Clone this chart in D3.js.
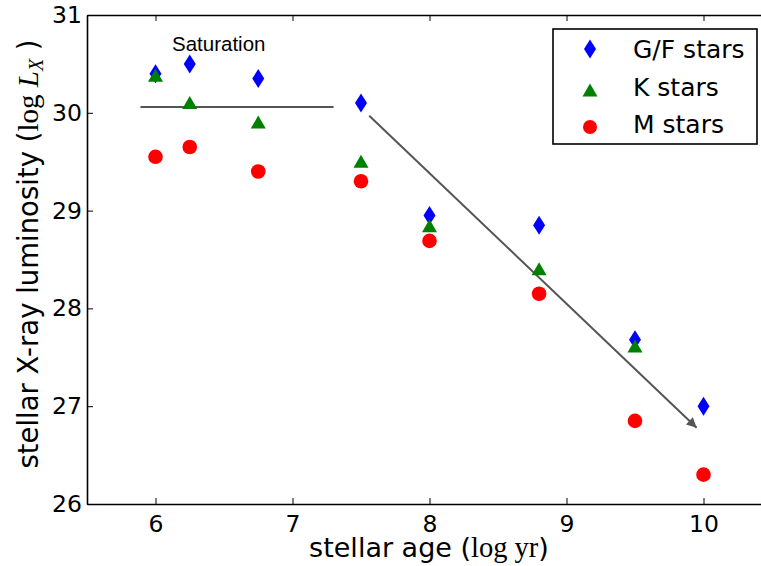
<!DOCTYPE html>
<html>
<head>
<meta charset="utf-8">
<script src="https://cdn.jsdelivr.net/npm/d3@7"></script>
<style>
  html, body { margin: 0; padding: 0; background: #fff; overflow: hidden; }
  svg { display: block; }
</style>
</head>
<body>
<svg id="chart" width="761" height="566"></svg>
<script>
// ---- data ----
const ages = [6, 6.25, 6.75, 7.5, 8, 8.8, 9.5, 10];
const gfStars = [30.4, 30.5, 30.35, 30.1, 28.95, 28.85, 27.68, 27.0];
const kStars = [30.38, 30.1, 29.9, 29.5, 28.84, 28.4, 27.61, null];
const mStars = [29.55, 29.65, 29.4, 29.3, 28.69, 28.15, 26.85, 26.3];
const seriesNames = ["G/F stars", "K stars", "M stars"];
const xTicks = [6, 7, 8, 9, 10];
const yTicks = [26, 27, 28, 29, 30, 31];
const saturationLine = [[5.89, 30.06], [7.30, 30.06]];
const decayArrow = [[7.56, 29.97], [9.95, 26.78]];

// ---- layout ----
const svg = d3.select("#chart");
const pL = 87, pR = 772, pT = 15, pB = 504;
const x = d3.scaleLinear().domain([5.5, 10.5]).range([pL, pR]);
const y = d3.scaleLinear().domain([26, 31]).range([pB, pT]);

const sans = "'DejaVu Sans', sans-serif";
const serif = "'Liberation Serif', 'DejaVu Serif', serif";

// axes (inward ticks, all sides)
const axB = svg.append("g").attr("transform", `translate(0,${pB})`)
  .call(d3.axisBottom(x).tickValues(xTicks).tickFormat(d3.format("d")).tickSizeInner(-6).tickSizeOuter(0).tickPadding(11));
const axT = svg.append("g").attr("transform", `translate(0,${pT})`)
  .call(d3.axisTop(x).tickValues(xTicks).tickFormat("").tickSizeInner(-6).tickSizeOuter(0));
const axL = svg.append("g").attr("transform", `translate(${pL},0)`)
  .call(d3.axisLeft(y).tickValues(yTicks).tickFormat(d3.format("d")).tickSizeInner(-6).tickSizeOuter(0).tickPadding(5));
const axR = svg.append("g").attr("transform", `translate(${pR},0)`)
  .call(d3.axisRight(y).tickValues(yTicks).tickFormat("").tickSizeInner(-6).tickSizeOuter(0));
[axB, axT, axL, axR].forEach(a => {
  a.select(".domain").attr("stroke", "#000").attr("stroke-width", 1.6);
  a.selectAll(".tick line").attr("stroke", "#000").attr("stroke-width", 1);
  a.selectAll(".tick text").attr("font-family", sans).attr("font-size", 23.5).attr("fill", "#000");
});

// annotation lines
svg.append("line")
  .attr("x1", x(saturationLine[0][0])).attr("y1", y(saturationLine[0][1]))
  .attr("x2", x(saturationLine[1][0])).attr("y2", y(saturationLine[1][1]))
  .attr("stroke", "#555").attr("stroke-width", 2);

svg.append("defs").append("marker")
  .attr("id", "ah").attr("viewBox", "0 0 10 10").attr("refX", 10).attr("refY", 5)
  .attr("markerWidth", 13).attr("markerHeight", 10).attr("markerUnits", "userSpaceOnUse")
  .attr("orient", "auto")
  .append("path").attr("d", "M0,0 L10,5 L0,10 Z").attr("fill", "#555");

svg.append("line")
  .attr("x1", x(decayArrow[0][0])).attr("y1", y(decayArrow[0][1]))
  .attr("x2", x(decayArrow[1][0])).attr("y2", y(decayArrow[1][1]))
  .attr("stroke", "#555").attr("stroke-width", 2).attr("marker-end", "url(#ah)");

svg.append("text").attr("x", 172).attr("y", 51)
  .attr("font-family", "'Liberation Sans', Arial, sans-serif").attr("font-size", 20.5)
  .attr("fill", "#000").text("Saturation");

// marker shapes
const diamondPath = "M0,-9.5 L6,0 L0,9.5 L-6,0 Z";
const trianglePath = "M0,-7 L7.5,6 L-7.5,6 Z";
function drawSeries(vals, kind, color) {
  const pts = ages.map((a, i) => ({a, v: vals[i]})).filter(d => d.v != null);
  const g = svg.append("g");
  if (kind === "circle") {
    g.selectAll("circle").data(pts).join("circle")
      .attr("cx", d => x(d.a)).attr("cy", d => y(d.v)).attr("r", 7.3).attr("fill", color);
  } else {
    g.selectAll("path").data(pts).join("path")
      .attr("d", kind === "diamond" ? diamondPath : trianglePath)
      .attr("transform", d => `translate(${x(d.a)},${y(d.v)})`).attr("fill", color);
  }
}
drawSeries(gfStars, "diamond", "#0000ff");
drawSeries(kStars, "triangle", "#008000");
drawSeries(mStars, "circle", "#ff0000");

// legend
const lg = svg.append("g");
lg.append("rect").attr("x", 553).attr("y", 29).attr("width", 204).attr("height", 115)
  .attr("fill", "#fff").attr("stroke", "#000").attr("stroke-width", 1.6);
const kinds = ["diamond", "triangle", "circle"];
const colors = ["#0000ff", "#008000", "#ff0000"];
seriesNames.forEach((name, i) => {
  const base = 58 + i * 37.5;
  const my = base - 9 + (i === 1 ? 4 : i === 2 ? 3 : 0);
  if (kinds[i] === "circle") {
    lg.append("circle").attr("cx", 590).attr("cy", my).attr("r", 7).attr("fill", colors[i]);
  } else {
    lg.append("path").attr("d", kinds[i] === "diamond" ? diamondPath : trianglePath)
      .attr("transform", `translate(590,${my})`).attr("fill", colors[i]);
  }
  lg.append("text").attr("x", 633).attr("y", base).attr("font-family", sans)
    .attr("font-size", 25).attr("fill", "#000").text(name);
});

// axis labels
const xl = svg.append("text").attr("x", 429).attr("y", 557).attr("text-anchor", "middle")
  .attr("font-family", sans).attr("font-size", 27).attr("fill", "#000");
xl.append("tspan").text("stellar age (");
xl.append("tspan").attr("font-family", serif).attr("font-size", 28.5).text("log yr");
xl.append("tspan").text(")");

const yl = svg.append("text").attr("transform", "translate(38,254) rotate(-90)")
  .attr("text-anchor", "middle").attr("font-family", sans).attr("font-size", 27.5).attr("fill", "#000");
yl.append("tspan").text("stellar X-ray luminosity (");
yl.append("tspan").attr("font-family", serif).attr("font-size", 29).text("log ");
yl.append("tspan").attr("font-family", serif).attr("font-style", "italic").attr("font-size", 29).text("L");
yl.append("tspan").attr("font-family", serif).attr("font-style", "italic").attr("font-size", 20).attr("dy", 5).text("X");
yl.append("tspan").attr("dy", -5).text(" )");
</script>
</body>
</html>
